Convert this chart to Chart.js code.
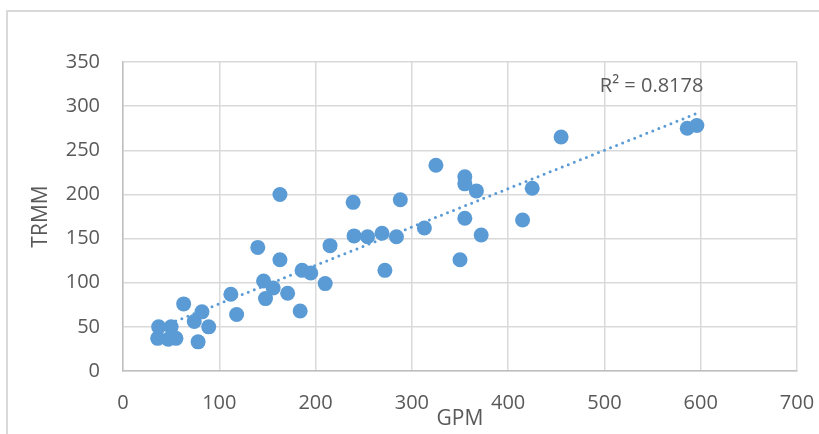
<!DOCTYPE html>
<html>
<head>
<meta charset="utf-8">
<script src="https://cdn.jsdelivr.net/npm/chart.js@4/dist/chart.umd.min.js"></script>
<style>
  body { margin: 0; background: #fff; }
  canvas { display: block; }
</style>
</head>
<body>
<canvas id="chart" width="819" height="434"></canvas>
<script>
const gpm = [37, 36, 50, 47, 55, 63, 74, 82, 78, 89, 112, 118, 140, 163, 146, 156, 171, 148, 184, 186, 195, 210, 215, 240, 163, 239, 254, 269, 284, 288, 272, 313, 325, 355, 355, 367, 355, 372, 350, 415, 425, 455, 586, 596];
const trmm = [50, 37, 50, 36, 37, 76, 56, 67, 33, 50, 87, 64, 140, 126, 102, 94, 88, 82, 68, 114, 111, 99, 142, 153, 200, 191, 152, 156, 152, 194, 114, 162, 233, 220, 212, 204, 173, 154, 126, 171, 207, 265, 275, 278];
const xTicks = [0, 100, 200, 300, 400, 500, 600, 700];
const yTicks = [0, 50, 100, 150, 200, 250, 300, 350];
const r2Label = "R² = 0.8178";

const blue = "#5b9bd5";
const textGray = "#595959";

// least squares trend line, like the excel one
function trend(xs, ys) {
  const n = xs.length;
  let sx = 0, sy = 0, sxy = 0, sxx = 0;
  for (let i = 0; i < n; i++) {
    sx += xs[i]; sy += ys[i];
    sxy += xs[i] * ys[i]; sxx += xs[i] * xs[i];
  }
  const slope = (n * sxy - sx * sy) / (n * sxx - sx * sx);
  const icpt = (sy - slope * sx) / n;
  const x0 = Math.min(...xs), x1 = Math.max(...xs);
  return [{x: x0, y: icpt + slope * x0}, {x: x1, y: icpt + slope * x1}];
}

const points = gpm.map((g, i) => ({x: g, y: trmm[i]}));

const frame = {
  id: "frame",
  beforeDraw(chart) {
    const ctx = chart.ctx;
    ctx.save();
    ctx.fillStyle = "#fff";
    ctx.fillRect(0, 0, chart.width, chart.height);
    ctx.strokeStyle = "#d9d9d9";
    ctx.lineWidth = 2;
    ctx.strokeRect(7, 11, 1000, 600);
    ctx.restore();
  },
  afterDatasetsDraw(chart) {
    const ctx = chart.ctx;
    const xs = chart.scales.x, ys = chart.scales.y;
    ctx.save();
    ctx.font = "20px 'Open Sans', sans-serif";
    ctx.fillStyle = textGray;
    ctx.textAlign = "center";
    ctx.textBaseline = "middle";
    ctx.fillText(r2Label, xs.getPixelForValue(549), ys.getPixelForValue(322));
    ctx.restore();
  }
};

Chart.defaults.font.family = "'Open Sans', sans-serif";
Chart.defaults.color = textGray;

new Chart(document.getElementById("chart").getContext("2d"), {
  type: "scatter",
  data: {
    datasets: [
      {
        label: "TRMM",
        data: points,
        backgroundColor: blue,
        borderColor: blue,
        pointRadius: 7.5,
        borderWidth: 0,
        order: 1
      },
      {
        type: "line",
        label: "Linear",
        data: trend(gpm, trmm),
        borderColor: blue,
        borderWidth: 3,
        borderDash: [0, 6.5],
        borderCapStyle: "round",
        pointRadius: 0,
        fill: false,
        order: 0
      }
    ]
  },
  options: {
    responsive: false,
    animation: false,
    layout: { padding: { top: 62, right: 22, left: 0, bottom: 0 } },
    plugins: {
      legend: { display: false },
      tooltip: { enabled: false }
    },
    scales: {
      x: {
        type: "linear",
        min: 0,
        max: 700,
        afterBuildTicks: (s) => { s.ticks = xTicks.map(v => ({value: v})); },
        afterFit: (s) => { s.height = 63; s.paddingLeft = 0; s.paddingRight = 0; },
        grid: { color: "#d9d9d9", lineWidth: 1.5, drawTicks: false },
        border: { color: "#bfbfbf", width: 1.5 },
        ticks: { padding: 20, font: { size: 20 }, color: textGray, maxRotation: 0 },
        title: { display: true, text: "GPM", font: { size: 21 }, color: textGray, padding: { top: 0, bottom: 2 } }
      },
      y: {
        min: 0,
        max: 350,
        afterBuildTicks: (s) => { s.ticks = yTicks.map(v => ({value: v})); },
        afterFit: (s) => { s.width = 123; },
        grid: { color: "#d9d9d9", lineWidth: 1.5, drawTicks: false },
        border: { color: "#bfbfbf", width: 1.5 },
        ticks: { padding: 23, font: { size: 20 }, color: textGray },
        title: { display: true, text: "TRMM", font: { size: 21 }, color: textGray, padding: { top: 28, bottom: 0 } }
      }
    }
  },
  plugins: [frame]
});
</script>
</body>
</html>
